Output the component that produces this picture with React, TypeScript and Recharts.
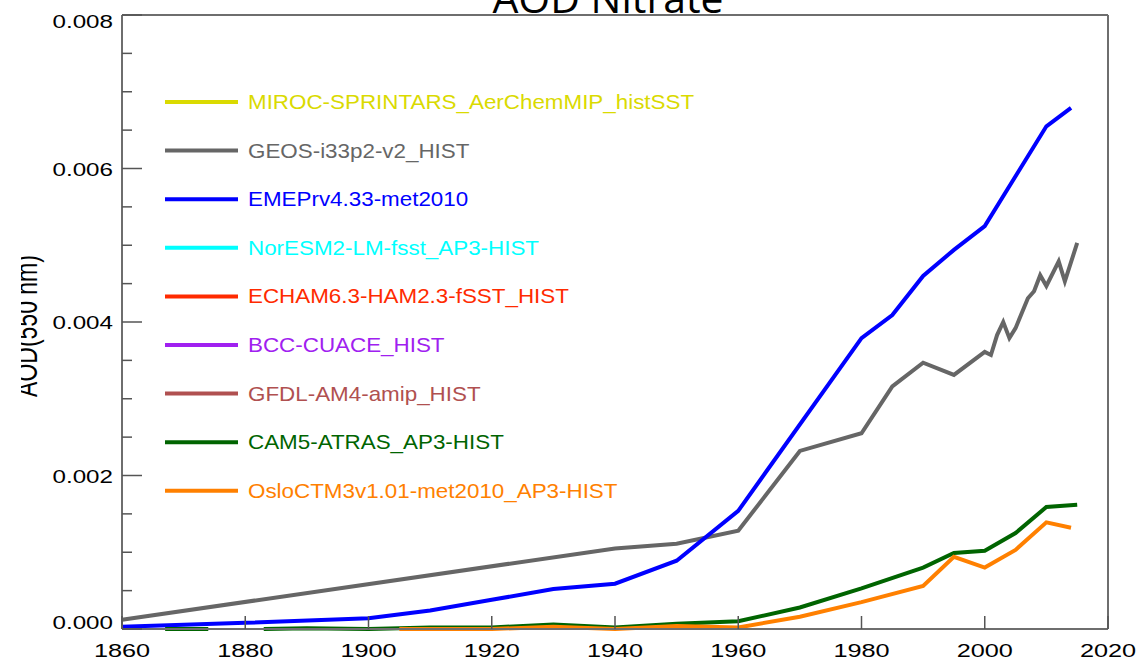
import React from 'react';
import { LineChart, Line, XAxis, YAxis } from 'recharts';

// axis ticks
const yearTicks = [1860, 1880, 1900, 1920, 1940, 1960, 1980, 2000, 2020];
const aodTicks = [
  0, 0.0005, 0.001, 0.0015, 0.002, 0.0025, 0.003, 0.0035, 0.004,
  0.0045, 0.005, 0.0055, 0.006, 0.0065, 0.007, 0.0075, 0.008,
];
const aodLabels = ['0.000', '0.002', '0.004', '0.006', '0.008'];

// models, in legend order
const models = [
  'MIROC-SPRINTARS_AerChemMIP_histSST',
  'GEOS-i33p2-v2_HIST',
  'EMEPrv4.33-met2010',
  'NorESM2-LM-fsst_AP3-HIST',
  'ECHAM6.3-HAM2.3-fSST_HIST',
  'BCC-CUACE_HIST',
  'GFDL-AM4-amip_HIST',
  'CAM5-ATRAS_AP3-HIST',
  'OsloCTM3v1.01-met2010_AP3-HIST',
];
const modelColors = [
  '#dada00', '#666666', '#0000ff', '#00ffff', '#ff2a00',
  '#a020f0', '#b05050', '#006400', '#ff8000',
];

// series values
const geosYears = [1860, 1940, 1950, 1960, 1970, 1980, 1985, 1990, 1995, 2000, 2001, 2002, 2003, 2004, 2005, 2007, 2008, 2009, 2010, 2012, 2013, 2014, 2015];
const geosValues = [0.00012, 0.00105, 0.00111, 0.00128, 0.00232, 0.00255, 0.00316, 0.00347, 0.00331, 0.00361, 0.00357, 0.00383, 0.004, 0.00379, 0.00392, 0.00431, 0.0044, 0.00461, 0.00447, 0.00479, 0.00453, 0.00478, 0.00503];

const emepYears = [1860, 1880, 1900, 1910, 1920, 1930, 1940, 1950, 1960, 1980, 1985, 1990, 1995, 2000, 2010, 2014];
const emepValues = [0.00003, 0.00008, 0.00014, 0.00024, 0.00038, 0.00052, 0.00059, 0.00089, 0.00154, 0.00379, 0.00409, 0.0046, 0.00494, 0.00525, 0.00655, 0.00679];

const cam5Years = [1867, 1874, 1878, 1883, 1890, 1900, 1910, 1920, 1930, 1940, 1950, 1960, 1970, 1980, 1990, 1995, 2000, 2005, 2010, 2015];
const cam5Values = [0, 0, null, 0, 0.00001, 0, 0.00002, 0.00002, 0.00006, 0.00002, 0.00007, 0.0001, 0.00028, 0.00053, 0.0008, 0.00099, 0.00102, 0.00125, 0.00159, 0.00162];

const osloYears = [1905, 1920, 1930, 1940, 1950, 1960, 1970, 1980, 1990, 1995, 2000, 2005, 2010, 2014];
const osloValues = [0, 0, 0.00003, 0, 0.00004, 0.00002, 0.00016, 0.00035, 0.00056, 0.00094, 0.0008, 0.00103, 0.00139, 0.00132];

const seriesByModel: Record<string, { years: number[]; values: (number | null)[] }> = {
  'GEOS-i33p2-v2_HIST': { years: geosYears, values: geosValues },
  'EMEPrv4.33-met2010': { years: emepYears, values: emepValues },
  'CAM5-ATRAS_AP3-HIST': { years: cam5Years, values: cam5Values },
  'OsloCTM3v1.01-met2010_AP3-HIST': { years: osloYears, values: osloValues },
};

const FONT = '"Liberation Sans", Arial, Helvetica, sans-serif';
const TICK_COLOR = '#555';
const AXIS = { stroke: '#6e6e6e', strokeWidth: 2 };

const majorIndex = (v: number) => {
  const i = Math.round(v / 0.0005);
  return i % 4 === 0 ? i / 4 : -1;
};

const LeftTick = (props: any) => {
  const { x, y, payload } = props;
  const idx = majorIndex(payload.value);
  const major = idx >= 0;
  const dy = idx === 0 ? -7 : idx === aodLabels.length - 1 ? 6 : 0;
  return (
    <g>
      <line x1={x} x2={x + (major ? 20 : 10)} y1={y} y2={y} stroke={TICK_COLOR} strokeWidth={1.5} />
      {major && (
        <text
          transform={`translate(${x - 9},${y + dy + 7}) scale(1.3,1)`}
          textAnchor="end"
          fontSize={18.6}
          fontFamily={FONT}
          fill="#000"
        >
          {aodLabels[idx]}
        </text>
      )}
    </g>
  );
};

const RightTick = (props: any) => {
  const { x, y, payload } = props;
  const major = majorIndex(payload.value) >= 0;
  return <line x1={x} x2={x - (major ? 20 : 10)} y1={y} y2={y} stroke={TICK_COLOR} strokeWidth={1.5} />;
};

const BottomTick = (props: any) => {
  const { x, y, payload } = props;
  return (
    <g>
      <line x1={x} x2={x} y1={y} y2={y - 13} stroke={TICK_COLOR} strokeWidth={1.5} />
      <text
        transform={`translate(${x},${y + 28}) scale(1.36,1)`}
        textAnchor="middle"
        fontSize={18.6}
        fontFamily={FONT}
        fill="#000"
      >
        {payload.value}
      </text>
    </g>
  );
};

const TopTick = (props: any) => {
  const { x, y } = props;
  return <line x1={x} x2={x} y1={y} y2={y + 12} stroke={TICK_COLOR} strokeWidth={1.5} />;
};

const App: React.FC = () => {
  return (
    <div style={{ position: 'absolute', left: 0, top: 0, width: 1140, height: 663, background: '#fff' }}>
      <LineChart width={1140} height={663} margin={{ top: 0, right: 0, bottom: 0, left: 0 }}>
        <XAxis
          dataKey="year"
          type="number"
          domain={[1860, 2020]}
          ticks={yearTicks}
          interval={0}
          height={34}
          tickSize={0}
          tickMargin={0}
          tickLine={false}
          axisLine={AXIS}
          tick={(p: any) => <BottomTick {...p} />}
        />
        <XAxis
          xAxisId="top"
          orientation="top"
          dataKey="year"
          type="number"
          domain={[1860, 2020]}
          ticks={yearTicks}
          interval={0}
          height={15}
          tickSize={0}
          tickMargin={0}
          tickLine={false}
          axisLine={AXIS}
          tick={(p: any) => <TopTick {...p} />}
        />
        <YAxis
          type="number"
          domain={[0, 0.008]}
          ticks={aodTicks}
          interval={0}
          width={122}
          tickSize={0}
          tickMargin={0}
          tickLine={false}
          axisLine={AXIS}
          tick={(p: any) => <LeftTick {...p} />}
        />
        <YAxis
          yAxisId="right"
          orientation="right"
          type="number"
          domain={[0, 0.008]}
          ticks={aodTicks}
          interval={0}
          width={32}
          tickSize={0}
          tickMargin={0}
          tickLine={false}
          axisLine={AXIS}
          tick={(p: any) => <RightTick {...p} />}
        />
        {models.map((m, i) => {
          const s = seriesByModel[m];
          if (!s) return null;
          const data = s.years.map((year, k) => ({ year, value: s.values[k] }));
          return (
            <Line
              key={m}
              data={data}
              dataKey="value"
              name={m}
              type="linear"
              stroke={modelColors[i]}
              strokeWidth={4}
              dot={false}
              activeDot={false}
              connectNulls={false}
              isAnimationActive={false}
            />
          );
        })}
      </LineChart>

      <svg
        width={1140}
        height={663}
        style={{ position: 'absolute', left: 0, top: 0, pointerEvents: 'none' }}
      >
        <defs>
          <clipPath id="ylabel-clip">
            <rect x={21} y={200} width={40} height={260} />
          </clipPath>
        </defs>
        <text x={608} y={13} textAnchor="middle" fontSize={41} fontFamily='"Open Sans", "DejaVu Sans", sans-serif' fill="#000">
          AOD  Nitrate
        </text>
        <g clipPath="url(#ylabel-clip)">
          <text
            transform="translate(37,326) rotate(-90) scale(1,1.38)"
            textAnchor="middle"
            fontSize={23}
            fontFamily={FONT}
            fill="#000"
          >
            AOD(550 nm)
          </text>
        </g>
        {models.map((m, i) => {
          const cy = 102 + i * 48.6;
          return (
            <g key={m}>
              <line x1={165} x2={238} y1={cy} y2={cy} stroke={modelColors[i]} strokeWidth={4} />
              <text
                transform={`translate(248,${cy + 7}) scale(1.12,1)`}
                fontSize={20}
                fontFamily={FONT}
                fill={modelColors[i]}
                style={{ whiteSpace: 'pre' }}
              >
                {m}
              </text>
            </g>
          );
        })}
      </svg>
    </div>
  );
};

export default App;
